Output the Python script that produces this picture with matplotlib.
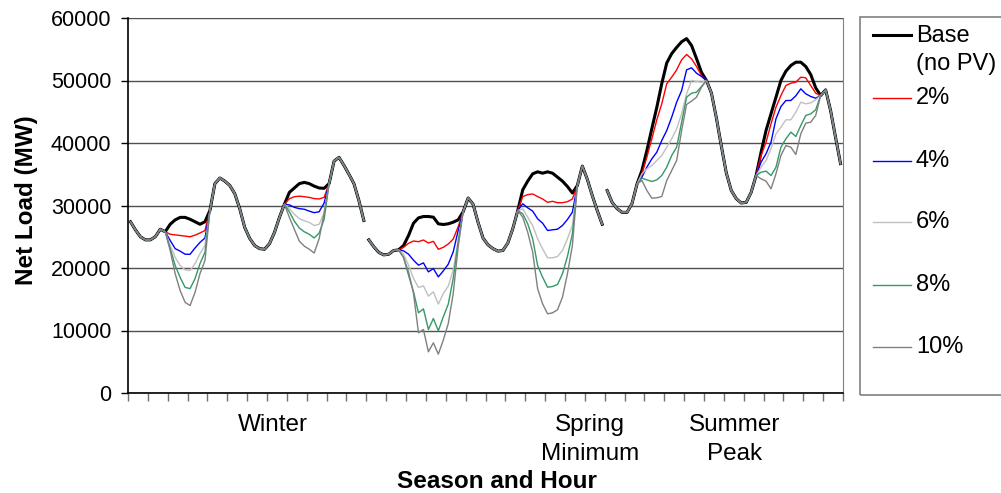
import numpy as np
import matplotlib
matplotlib.use("Agg")
import matplotlib.pyplot as plt
from matplotlib.lines import Line2D
from matplotlib.patches import Rectangle

plt.rcParams['font.family'] = ['Liberation Sans', 'DejaVu Sans']

# net load (MW), 48 hourly values per season (two days each)
winter_base = [27400, 26100, 25000, 24500, 24500, 25000, 26200, 25800,
               27000, 27700, 28100, 28100, 27800, 27400, 27000, 27400,
               29200, 33500, 34400, 33900, 33200, 31900, 29500, 26500,
               24750, 23600, 23100, 23000, 23900, 25700, 28100, 30200,
               32100, 32800, 33500, 33700, 33500, 33100, 32800, 32750,
               33500, 37100, 37700, 36400, 35000, 33500, 30800, 27600]
winter_2 = [27400, 26100, 25000, 24500, 24500, 25000, 26200, 25800,
            25400, 25300, 25200, 25100, 25000, 25250, 25600, 26000,
            29200, 33500, 34400, 33900, 33200, 31900, 29500, 26500,
            24750, 23600, 23100, 23000, 23900, 25700, 28100, 30200,
            31100, 31400, 31500, 31400, 31300, 31100, 31050, 31300,
            33500, 37100, 37700, 36400, 35000, 33500, 30800, 27600]
winter_4 = [27400, 26100, 25000, 24500, 24500, 25000, 26200, 25800,
            24400, 23100, 22700, 22200, 22200, 23200, 24100, 24800,
            29200, 33500, 34400, 33900, 33200, 31900, 29500, 26500,
            24750, 23600, 23100, 23000, 23900, 25700, 28100, 30200,
            30100, 29700, 29500, 29400, 29100, 28850, 29000, 30400,
            33500, 37100, 37700, 36400, 35000, 33500, 30800, 27600]
winter_6 = [27400, 26100, 25000, 24500, 24500, 25000, 26200, 25800,
            23600, 21700, 20400, 19700, 19600, 20700, 22300, 23600,
            29200, 33500, 34400, 33900, 33200, 31900, 29500, 26500,
            24750, 23600, 23100, 23000, 23900, 25700, 28100, 30200,
            29500, 28600, 27900, 27550, 27300, 26800, 27000, 28800,
            33500, 37100, 37700, 36400, 35000, 33500, 30800, 27600]
winter_8 = [27400, 26100, 25000, 24500, 24500, 25000, 26200, 25800,
            23100, 20400, 18500, 16900, 16700, 18300, 20700, 22500,
            29200, 33500, 34400, 33900, 33200, 31900, 29500, 26500,
            24750, 23600, 23100, 23000, 23900, 25700, 28100, 30200,
            29000, 27500, 26400, 25800, 25400, 24800, 25600, 27800,
            33500, 37100, 37700, 36400, 35000, 33500, 30800, 27600]
winter_10 = [27400, 26100, 25000, 24500, 24500, 25000, 26200, 25800,
             22800, 19100, 16400, 14500, 14000, 16100, 19100, 21200,
             29200, 33500, 34400, 33900, 33200, 31900, 29500, 26500,
             24750, 23600, 23100, 23000, 23900, 25700, 28100, 30200,
             28100, 26200, 24300, 23500, 23000, 22400, 24700, 28800,
             33500, 37100, 37700, 36400, 35000, 33500, 30800, 27600]

spring_base = [24500, 23400, 22500, 22100, 22200, 22800, 22900,
               23600, 25200, 27170, 28020, 28240, 28240, 28130, 27070, 26960, 27070, 27330, 27710,
               29000, 31200, 30200, 27300, 24800, 23700, 23100, 22700, 22800, 24000, 26300, 29200,
               32510, 33900, 35070, 35390, 35170, 35390, 35170, 34540, 33900, 33040, 32000,
               33200, 36300, 34200, 31600, 29200, 27000]
spring_2 = [24500, 23400, 22500, 22100, 22200, 22800, 22900,
            23310, 23950, 24320, 24210, 24480, 24000, 24270, 22990, 23310, 23840, 24640, 26610,
            29000, 31200, 30200, 27300, 24800, 23700, 23100, 22700, 22800, 24000, 26300, 29200,
            31420, 31740, 31850, 31420, 31040, 30510, 30670, 30450, 30450, 30610, 31040,
            33200, 36300, 34200, 31600, 29200, 27000]
spring_4 = [24500, 23400, 22500, 22100, 22200, 22800, 22900,
            22740, 22210, 21250, 20450, 20820, 19380, 19910, 18580, 19540, 20610, 22580, 26000,
            29000, 31200, 30200, 27300, 24800, 23700, 23100, 22700, 22800, 24000, 26300, 29200,
            30270, 29630, 29100, 27870, 27170, 26000, 26110, 26210, 26800, 27760, 28930,
            33200, 36300, 34200, 31600, 29200, 27000]
spring_6 = [24500, 23400, 22500, 22100, 22200, 22800, 22900,
            22210, 20450, 18320, 16880, 17150, 15500, 16190, 14220, 15920, 17100, 19650, 24450,
            29000, 31200, 30200, 27300, 24800, 23700, 23100, 22700, 22800, 24000, 26300, 29200,
            29470, 28130, 26800, 24670, 23070, 21630, 21630, 21840, 22800, 24670, 26800,
            33200, 36300, 34200, 31600, 29200, 27000]
spring_8 = [24500, 23400, 22500, 22100, 22200, 22800, 22900,
            21680, 18850, 16190, 12830, 13470, 10160, 11920, 9950, 12190, 14220, 18320, 24180,
            29000, 31200, 30200, 27300, 24800, 23700, 23100, 22700, 22800, 24000, 26300, 29200,
            28660, 27070, 24670, 20400, 18530, 16930, 17040, 17360, 19070, 21840, 25470,
            33200, 36300, 34200, 31600, 29200, 27000]
spring_10 = [24500, 23400, 22500, 22100, 22200, 22800, 22900,
             21680, 19380, 15920, 9630, 10160, 6590, 8030, 6220, 8460, 11120, 15920, 23380,
             29000, 31200, 30200, 27300, 24800, 23700, 23100, 22700, 22800, 24000, 26300, 29200,
             28130, 25730, 22530, 16670, 14270, 12670, 12830, 13310, 15330, 19070, 23600,
             33200, 36300, 34200, 31600, 29200, 27000]

summer_base = [32400, 30500, 29500, 28900, 28900, 30300, 33400,
               35600, 38800, 42300, 45700, 49500, 52800, 54300, 55300, 56200, 56700, 55600, 53500, 51300,
               50000, 48000, 44000, 39500, 35200, 32400, 31100, 30400, 30500, 32100, 34800,
               38530, 42000, 44670, 47330, 50000, 51490, 52400, 52930, 52930, 52240, 50960, 48830,
               47600, 48500, 45200, 40900, 36700]
summer_2 = [32400, 30500, 29500, 28900, 28900, 30300, 33400,
            35070, 37730, 40670, 43710, 46270, 49470, 50530, 51710, 53310, 54160, 53470, 52240, 50800,
            50000, 48000, 44000, 39500, 35200, 32400, 31100, 30400, 30500, 32100, 34800,
            38000, 40130, 43070, 45730, 47600, 49200, 49570, 49730, 50530, 50430, 49200, 47970,
            47600, 48500, 45200, 40900, 36700]
summer_4 = [32400, 30500, 29500, 28900, 28900, 30300, 33400,
            34530, 36130, 37470, 38530, 40400, 42000, 44130, 46530, 48400, 51710, 52030, 51170, 50640,
            50000, 48000, 44000, 39500, 35200, 32400, 31100, 30400, 30500, 32100, 34800,
            36930, 38270, 40130, 43870, 45840, 46800, 46800, 47550, 48670, 47870, 47440, 47170,
            47600, 48500, 45200, 40900, 36700]
summer_6 = [32400, 30500, 29500, 28900, 28900, 30300, 33400,
            35070, 35870, 36400, 37200, 38000, 39330, 40670, 42270, 44670, 47870, 50000, 49840, 49730,
            50000, 48000, 44000, 39500, 35200, 32400, 31100, 30400, 30500, 32100, 34800,
            36130, 37200, 39070, 41470, 42530, 43710, 43710, 44930, 46530, 46270, 46430, 46910,
            47600, 48500, 45200, 40900, 36700]
summer_8 = [32400, 30500, 29500, 28900, 28900, 30300, 33400,
            34370, 34100, 33840, 34100, 34800, 36130, 38000, 39330, 43330, 47330, 47970, 48130, 49040,
            50000, 48000, 44000, 39500, 35200, 32400, 31100, 30400, 30500, 32100, 34800,
            35330, 35490, 34800, 36130, 39330, 40670, 41730, 41040, 42800, 44400, 44670, 45310,
            47600, 48500, 45200, 40900, 36700]
summer_10 = [32400, 30500, 29500, 28900, 28900, 30300, 33400,
             34000, 32400, 31170, 31230, 31440, 34000, 35600, 37200, 42000, 46160, 46700, 47330, 48930,
             50000, 48000, 44000, 39500, 35200, 32400, 31100, 30400, 30500, 32100, 34800,
             34270, 33900, 32670, 35070, 38000, 39600, 39330, 38160, 41470, 43170, 43330, 44400,
             47600, 48500, 45200, 40900, 36700]

series_names = ['Base\n(no PV)', '2%', '4%', '6%', '8%', '10%']
series_colors = ['#000000', '#FF0000', '#0000FF', '#C0C0C0', '#339966', '#808080']
series_widths = [2.2, 1.0, 1.0, 1.0, 1.0, 1.0]
seasons = [
    [winter_base, winter_2, winter_4, winter_6, winter_8, winter_10],
    [spring_base, spring_2, spring_4, spring_6, spring_8, spring_10],
    [summer_base, summer_2, summer_4, summer_6, summer_8, summer_10],
]
season_labels = ['Winter', 'Spring\nMinimum', 'Summer\nPeak']
season_label_pos = [29.2, 93.0, 122.2]

W, H = 1001, 493
fig = plt.figure(figsize=(W / 100, H / 100), dpi=100)
ax = fig.add_axes([128 / W, 1 - 393 / H, 715 / W, (393 - 18) / H])

for k, data in enumerate(seasons):
    x = np.arange(48) + 48 * k + 0.5
    for vals, c, lw in zip(data, series_colors, series_widths):
        ax.plot(x, vals, color=c, lw=lw, solid_joinstyle='round', zorder=3)

ax.set_xlim(0, 144)
ax.set_ylim(0, 60000)
ax.set_yticks(np.arange(0, 60001, 10000))
ax.yaxis.grid(True, color='#505050', lw=1.0)
ax.set_axisbelow(True)

ax.set_xticks(np.arange(0, 145, 4))
ax.set_xticklabels([])
ax.set_xticks(season_label_pos, season_labels, minor=True)
ax.tick_params(axis='x', which='major', length=6, width=1, color='#707070', direction='out')
ax.tick_params(axis='x', which='minor', length=0, pad=15, labelsize=17.5)
for t in ax.get_xticklabels(minor=True):
    t.set_linespacing(1.45)
ax.tick_params(axis='y', length=5, width=1, labelsize=15.5, pad=7)

ax.spines['top'].set_visible(False)
ax.spines['right'].set_color('#808080')
ax.spines['left'].set_linewidth(1.2)
ax.spines['bottom'].set_linewidth(1.2)

fig.text(497 / W, 1 - 482 / H, 'Season and Hour', ha='center', va='center',
         fontsize=17.5, fontweight='bold')
fig.text(27 / W, 1 - 200 / H, 'Net Load (MW)', ha='center', va='center',
         rotation=90, fontsize=17.5, fontweight='bold')

# legend box
fig.add_artist(Rectangle((860 / W, 1 - 395 / H), 160 / W, (395 - 17) / H,
                         transform=fig.transFigure, fill=False, ec='#808080', lw=1.2))
leg_y = [35, 98, 161, 222, 285, 347]
for name, c, lw, yy in zip(series_names, series_colors, series_widths, leg_y):
    fy = 1 - yy / H
    fig.add_artist(Line2D([873 / W, 911 / W], [fy, fy], transform=fig.transFigure,
                          color=c, lw=lw))
    if '\n' in name:
        fig.text(916 / W, 1 - 50 / H, name, ha='left', va='center',
                 fontsize=17, linespacing=1.4)
    else:
        fig.text(916 / W, fy, name, ha='left', va='center', fontsize=17)

fig.savefig('out.png', dpi=100)
